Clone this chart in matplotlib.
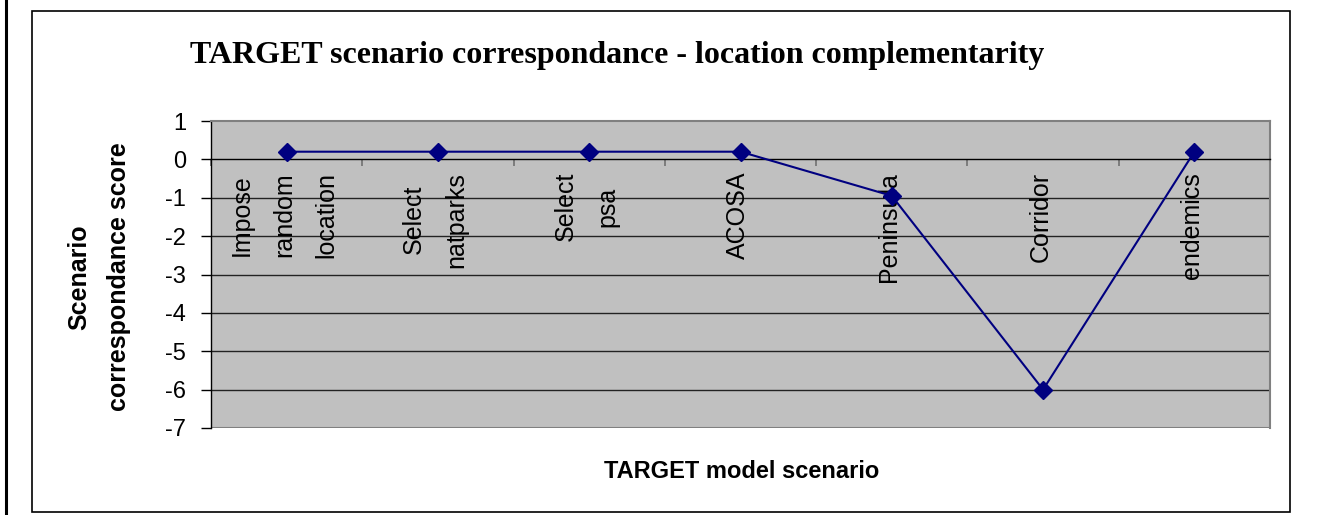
import matplotlib
matplotlib.use("Agg")
import matplotlib.pyplot as plt
from matplotlib.patches import Rectangle
from matplotlib.lines import Line2D

categories = ["Impose\nrandom\nlocation", "Select\nnatparks", "Select\npsa", "ACOSA",
              "Peninsula", "Corridor", "endemics"]
scores = [0.2, 0.2, 0.2, 0.2, -0.95, -6.0, 0.2]
y_ticks = [1, 0, -1, -2, -3, -4, -5, -6, -7]

title = "TARGET scenario correspondance - location complementarity"
x_label = "TARGET model scenario"
y_label = "Scenario\ncorrespondance score"

SANS = "Liberation Sans"
SERIF = "Liberation Serif"

W, H = 1320, 515
fig = plt.figure(figsize=(W / 100, H / 100), dpi=100)
fig.patch.set_facecolor("white")

def fx(px):
    return px / W

def fy(py):
    return 1 - py / H

# outer frames
fig.add_artist(Rectangle((fx(32), fy(512)), fx(1290) - fx(32), fy(11) - fy(512),
                         transform=fig.transFigure, fill=False, edgecolor="black", lw=1.2))
fig.add_artist(Line2D([fx(6), fx(6)], [0, 1], transform=fig.transFigure, color="black", lw=2.2))

ax = fig.add_axes([fx(211), fy(428), fx(1270) - fx(211), fy(121) - fy(428)])
ax.set_facecolor("#C0C0C0")

n = len(categories)
xs = list(range(n))
ax.set_xlim(-0.5, n - 0.5)
ax.set_ylim(min(y_ticks), max(y_ticks))

# gridlines
for v in y_ticks:
    if v in (max(y_ticks), min(y_ticks), 0):
        continue
    ax.axhline(v, color="#222222", lw=1.0, zorder=1)
ax.axhline(min(y_ticks), color="#808080", lw=1.5, zorder=1)

# spines
ax.spines["top"].set_color("#808080")
ax.spines["right"].set_color("#808080")
ax.spines["top"].set_linewidth(1.5)
ax.spines["right"].set_linewidth(1.5)
ax.spines["left"].set_color("black")
ax.spines["left"].set_linewidth(1.0)
ax.spines["bottom"].set_position(("data", 0))
ax.spines["bottom"].set_color("black")
ax.spines["bottom"].set_linewidth(1.0)

ax.set_yticks(y_ticks)
ax.set_yticklabels([str(v) for v in y_ticks], fontsize=17, family=SANS)
ax.tick_params(axis="y", direction="out", length=7, width=1, color="black", pad=11)

ax.set_xticks([i - 0.5 for i in range(n + 1)])
ax.set_xticklabels([])
ax.tick_params(axis="x", direction="out", length=5, width=1.2, color="#707070")

ax.plot(xs, scores, color="#000080", lw=1.5, marker="D", markersize=9,
        markerfacecolor="#000080", markeredgecolor="#000080", zorder=5, clip_on=False)

for i, lab in enumerate(categories):
    ax.annotate(lab, xy=(i, 0), xytext=(-2, -9), textcoords="offset points",
                rotation=90, ha="center", va="top", multialignment="center",
                fontsize=18, family=SANS, linespacing=1.95, zorder=3)

fig.text(fx(617), fy(56), title, family=SERIF, fontweight="bold", fontsize=23,
         ha="center", va="center")
fig.text(fx(742), fy(472), x_label, family=SANS, fontweight="bold", fontsize=17,
         ha="center", va="center")
fig.text(fx(99), fy(277), y_label, family=SANS, fontweight="bold", fontsize=18,
         ha="center", va="center", rotation=90, multialignment="center", linespacing=1.8)

fig.savefig("out.png", dpi=100)
